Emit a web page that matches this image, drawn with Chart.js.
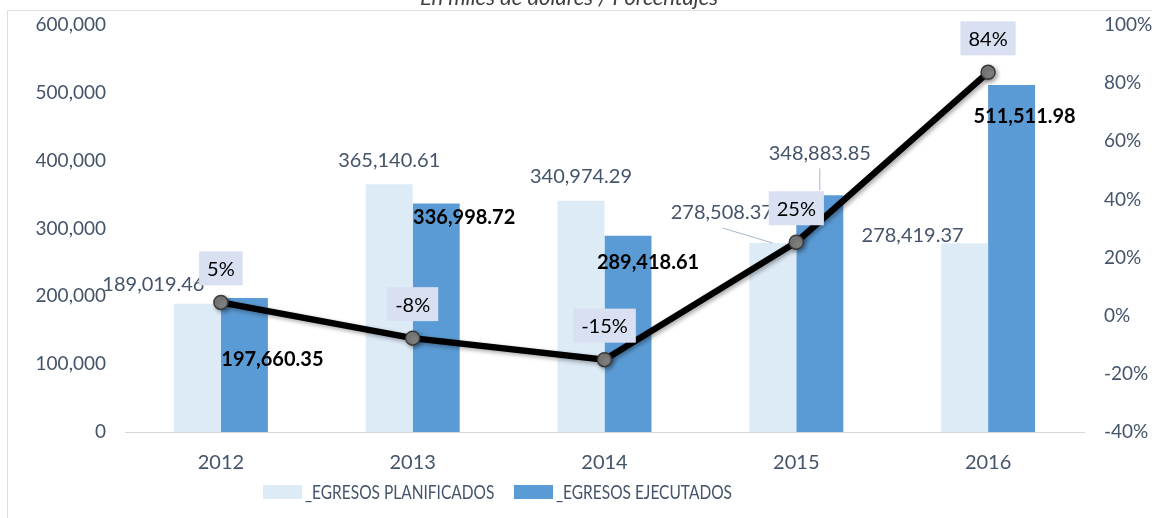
<!DOCTYPE html>
<html>
<head>
<meta charset="utf-8">
<script src="https://cdn.jsdelivr.net/npm/chart.js@4.4.1/dist/chart.umd.min.js"></script>
<style>
html, body { margin: 0; padding: 0; background: #fff; overflow: hidden; }
#wrap { position: relative; width: 1152px; height: 518px; }
#titulo { position: absolute; left: 0; width: 1138px; top: -14px; text-align: center;
  font: italic 22px/22px Lato, sans-serif; color: #404040; }
#chart { position: absolute; left: 0; top: 0; }
.ley-caja { position: absolute; top: 485px; width: 39px; height: 14px; }
.ley-txt { position: absolute; top: 480px; font: 19px/24px Lato, sans-serif; color: #44546A;
  white-space: nowrap; transform: scaleX(0.815); transform-origin: left center; }
</style>
</head>
<body>
<div id="wrap">
  <canvas id="chart" width="1152" height="518"></canvas>
  <div id="titulo">En miles de dólares / Porcentajes</div>
  <div id="leyenda"></div>
</div>
<script>
const years = ['2012', '2013', '2014', '2015', '2016'];
const egresosPlanificados = [189019.46, 365140.61, 340974.29, 278508.37, 278419.37];
const egresosEjecutados = [197660.35, 336998.72, 289418.61, 348883.85, 511511.98];
const variacion = [4.57, -7.71, -15.12, 25.27, 83.72];
const leftTicks = [0, 100000, 200000, 300000, 400000, 500000, 600000];
const rightTicks = [-40, -20, 0, 20, 40, 60, 80, 100];

const grisTexto = '#44546A';
const fmt = (v) => v.toLocaleString('en-US', { minimumFractionDigits: 2, maximumFractionDigits: 2 });

// offsets of each data label from its bar top / point (style only)
const offPlan = [[-44, -19], [0, -24], [0, -24], [-51, -31], [-52, -8]];
const offEjec = [[28, 62], [28, 14], [20, 27], [0, -42], [13, 32]];

const etiquetas = {
    id: 'etiquetas',
    beforeDraw(chart) {
        const ctx = chart.ctx;
        ctx.save();
        ctx.strokeStyle = '#D9DDE6';
        ctx.lineWidth = 1;
        ctx.beginPath();
        ctx.moveTo(7.5, 530);
        ctx.lineTo(7.5, 10.5);
        ctx.lineTo(1160, 10.5);
        ctx.stroke();
        ctx.restore();
    },
    beforeDatasetDraw(chart, args) {
        if (args.meta.type === 'line') {
            const ctx = chart.ctx;
            ctx.save();
            ctx.shadowColor = 'rgba(0,0,0,0.35)';
            ctx.shadowBlur = 4;
            ctx.shadowOffsetX = 2;
            ctx.shadowOffsetY = 2;
        }
    },
    afterDatasetDraw(chart, args) {
        if (args.meta.type === 'line') chart.ctx.restore();
    },
    afterDatasetsDraw(chart) {
        const ctx = chart.ctx;
        const metaVar = chart.getDatasetMeta(0);
        const metaPlan = chart.getDatasetMeta(1);
        const metaEjec = chart.getDatasetMeta(2);
        ctx.save();
        ctx.textAlign = 'center';
        ctx.textBaseline = 'middle';

        // leader lines (2015)
        ctx.strokeStyle = '#A9B6C8';
        ctx.lineWidth = 1;
        const bp = metaPlan.data[3], be = metaEjec.data[3];
        ctx.beginPath();
        ctx.moveTo(bp.x + offPlan[3][0] + 1, bp.y + offPlan[3][1] + 16);
        ctx.lineTo(bp.x, bp.y);
        ctx.moveTo(be.x, be.y + offEjec[3][1] + 15);
        ctx.lineTo(be.x, be.y - 5);
        ctx.stroke();

        metaPlan.data.forEach((bar, i) => {
            ctx.font = '20px Lato';
            ctx.fillStyle = grisTexto;
            ctx.fillText(fmt(egresosPlanificados[i]), bar.x + offPlan[i][0], bar.y + offPlan[i][1]);
        });
        metaEjec.data.forEach((bar, i) => {
            if (i === 3) {
                ctx.font = '20px Lato';
                ctx.fillStyle = grisTexto;
            } else {
                ctx.font = 'bold 20px Lato';
                ctx.fillStyle = '#000';
            }
            ctx.fillText(fmt(egresosEjecutados[i]), bar.x + offEjec[i][0], bar.y + offEjec[i][1]);
        });
        metaVar.data.forEach((pt, i) => {
            const txt = Math.round(variacion[i]) + '%';
            ctx.font = '20px Lato';
            const w = ctx.measureText(txt).width + 16;
            const h = 34;
            const cx = pt.x, cy = pt.y - 34;
            ctx.fillStyle = '#D9E0F1';
            ctx.fillRect(cx - w / 2, cy - h / 2, w, h);
            ctx.fillStyle = '#000';
            ctx.fillText(txt, cx, cy + 1);
        });
        ctx.restore();
    }
};

Chart.defaults.font.family = 'Lato';
Chart.defaults.color = grisTexto;

const sinPadding = (scale) => { scale.paddingTop = 0; scale.paddingBottom = 0; };

const grafico = new Chart(document.getElementById('chart'), {
    type: 'bar',
    data: {
        labels: years,
        datasets: [
            {
                type: 'line',
                label: 'Variación',
                data: variacion,
                yAxisID: 'y1',
                order: 0,
                borderColor: '#000',
                borderWidth: 6.5,
                pointRadius: 7,
                pointBackgroundColor: '#7F7F7F',
                pointBorderColor: '#3A3A3A',
                pointBorderWidth: 1.5,
                tension: 0
            },
            {
                label: '_EGRESOS PLANIFICADOS',
                data: egresosPlanificados,
                backgroundColor: '#DDEBF7',
                yAxisID: 'y',
                order: 1
            },
            {
                label: '_EGRESOS EJECUTADOS',
                data: egresosEjecutados,
                backgroundColor: '#5B9BD5',
                yAxisID: 'y',
                order: 1
            }
        ]
    },
    options: {
        responsive: false,
        animation: false,
        devicePixelRatio: 1,
        layout: { padding: { top: 25, left: 0, right: 0, bottom: 40 } },
        datasets: { bar: { categoryPercentage: 0.49, barPercentage: 1.0 } },
        plugins: {
            tooltip: { enabled: false },
            legend: { display: false }
        },
        scales: {
            x: {
                grid: { display: false, drawTicks: false },
                border: { display: true, color: '#D9D9D9', width: 1 },
                ticks: { color: grisTexto, font: { size: 20 }, padding: 19 },
                afterFit: (scale) => { scale.height = 46; }
            },
            y: {
                position: 'left',
                min: 0,
                max: 600000,
                grid: { display: false, drawTicks: false },
                border: { display: false },
                ticks: {
                    color: grisTexto,
                    font: { size: 19 },
                    padding: 19,
                    callback: (v) => v.toLocaleString('en-US')
                },
                afterBuildTicks: (scale) => { scale.ticks = leftTicks.map((v) => ({ value: v })); },
                afterFit: (scale) => { scale.width = 125; sinPadding(scale); }
            },
            y1: {
                position: 'right',
                min: -40,
                max: 100,
                grid: { display: false, drawTicks: false },
                border: { display: false },
                ticks: {
                    color: grisTexto,
                    font: { size: 19 },
                    padding: 20,
                    callback: (v) => v + '%'
                },
                afterBuildTicks: (scale) => { scale.ticks = rightTicks.map((v) => ({ value: v })); },
                afterFit: (scale) => { scale.width = 68; sinPadding(scale); }
            }
        }
    },
    plugins: [etiquetas]
});

// legend built from the bar datasets
const leyenda = document.getElementById('leyenda');
const posLeyenda = [263, 514];
grafico.data.datasets.slice(1).forEach((ds, i) => {
    const caja = document.createElement('div');
    caja.className = 'ley-caja';
    caja.style.left = posLeyenda[i] + 'px';
    caja.style.background = ds.backgroundColor;
    const txt = document.createElement('div');
    txt.className = 'ley-txt';
    txt.style.left = (posLeyenda[i] + 42) + 'px';
    txt.textContent = ds.label;
    leyenda.appendChild(caja);
    leyenda.appendChild(txt);
});
</script>
</body>
</html>
